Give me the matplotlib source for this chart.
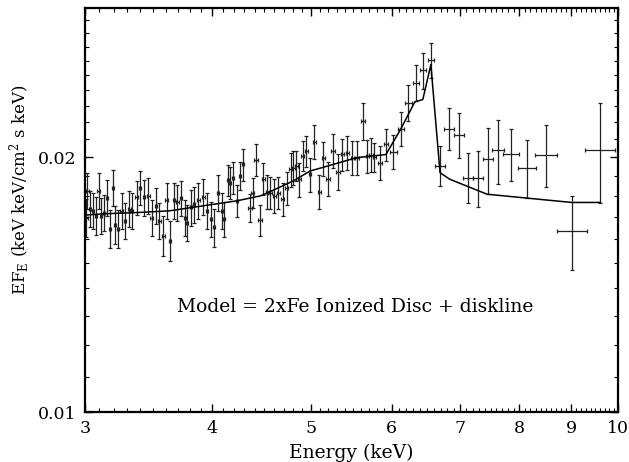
import matplotlib
matplotlib.use("Agg")
import matplotlib.pyplot as plt
from matplotlib.ticker import FixedLocator, NullFormatter, FixedFormatter

plt.rcParams['font.family'] = ['DejaVu Serif']
plt.rcParams['mathtext.fontset'] = 'dejavuserif'

# ---- data: dense low-energy bins ----
E_lo = [3.010, 3.017, 3.034, 3.055, 3.076, 3.096, 3.111, 3.132, 3.153, 3.174,
        3.196, 3.211, 3.232, 3.260, 3.284, 3.316, 3.334, 3.372, 3.397, 3.428,
        3.461, 3.488, 3.522, 3.549, 3.581, 3.608, 3.635, 3.668, 3.696, 3.727,
        3.761, 3.780, 3.810, 3.838, 3.876, 3.920, 3.955, 3.986, 4.016, 4.049,
        4.086, 4.107, 4.142, 4.163, 4.195, 4.227, 4.259, 4.285, 4.356, 4.383,
        4.415, 4.455, 4.489, 4.530, 4.557, 4.599, 4.644, 4.690, 4.733, 4.776,
        4.804, 4.833, 4.869, 4.907, 4.944, 4.988, 5.037, 5.091, 5.141, 5.192,
        5.251, 5.311, 5.366, 5.427, 5.489, 5.544, 5.619, 5.678, 5.726, 5.769,
        5.843, 5.923, 6.022, 6.123, 6.229, 6.334, 6.435, 6.553]
F_lo = [0.01696, 0.01825, 0.01738, 0.01728, 0.01705, 0.01825, 0.01705, 0.01719, 0.01790, 0.01646,
        0.01840, 0.01664, 0.01646, 0.01728, 0.01682, 0.01738, 0.01728, 0.01792, 0.01841, 0.01792,
        0.01800, 0.01697, 0.01752, 0.01682, 0.01615, 0.01779, 0.01593, 0.01779, 0.01768, 0.01789,
        0.01697, 0.01674, 0.01744, 0.01760, 0.01779, 0.01795, 0.01728, 0.01690, 0.01652, 0.01816,
        0.01728, 0.01690, 0.01878, 0.01866, 0.01892, 0.01776, 0.01900, 0.01961, 0.01741, 0.01816,
        0.01984, 0.01685, 0.01886, 0.01821, 0.01816, 0.01800, 0.01816, 0.01784, 0.01838, 0.01935,
        0.01943, 0.01952, 0.01883, 0.02006, 0.02033, 0.01909, 0.02085, 0.01821, 0.01994, 0.01886,
        0.02033, 0.01923, 0.02015, 0.02024, 0.01997, 0.01997, 0.02206, 0.02006, 0.02012, 0.02000,
        0.01970, 0.02071, 0.02030, 0.02160, 0.02318, 0.02447, 0.02532, 0.02602]
Ferr_lo = [0.00087, 0.00089, 0.00085, 0.00084, 0.00088, 0.00089, 0.00083, 0.00084, 0.00087, 0.00085,
           0.00090, 0.00086, 0.00085, 0.00084, 0.00082, 0.00085, 0.00084, 0.00083, 0.00085, 0.00087,
           0.00088, 0.00083, 0.00085, 0.00082, 0.00088, 0.00087, 0.00086, 0.00087, 0.00086, 0.00087,
           0.00083, 0.00082, 0.00085, 0.00086, 0.00087, 0.00088, 0.00084, 0.00082, 0.00085, 0.00089,
           0.00084, 0.00082, 0.00081, 0.00081, 0.00082, 0.00077, 0.00072, 0.00085, 0.00066, 0.00074,
           0.00086, 0.00073, 0.00082, 0.00084, 0.00079, 0.00083, 0.00079, 0.00082, 0.00080, 0.00089,
           0.00089, 0.00079, 0.00087, 0.00082, 0.00088, 0.00088, 0.00096, 0.00084, 0.00092, 0.00087,
           0.00094, 0.00094, 0.00087, 0.00093, 0.00092, 0.00092, 0.00108, 0.00092, 0.00093, 0.00081,
           0.00091, 0.00090, 0.00093, 0.00099, 0.00113, 0.00119, 0.00123, 0.00123]
Eerr_lo = [0.010] * 48 + [0.016] * 20 + [0.022] * 14 + [0.045] * 6

# ---- data: wide high-energy bins ----
E_hi = [6.692, 6.834, 6.986, 7.134, 7.297, 7.454, 7.624, 7.851, 8.140, 8.497, 9.011, 9.606]
Eerr_hi = [0.076, 0.077, 0.079, 0.081, 0.082, 0.080, 0.100, 0.138, 0.166, 0.207, 0.305, 0.320]
F_hi = [0.01954, 0.02160, 0.02124, 0.01892, 0.01892, 0.01988, 0.02037, 0.02015, 0.01943, 0.02014, 0.01634, 0.02039]
Ferr_hi = [0.00106, 0.00123, 0.00129, 0.00128, 0.00144, 0.00178, 0.00177, 0.00142, 0.00153, 0.00169, 0.00164, 0.00276]

# ---- model curve ----
E_model = [3.00, 3.12, 3.37, 3.63, 3.92, 4.23, 4.46, 4.56, 4.80, 4.99, 5.19, 5.54, 5.92,
           6.12, 6.32, 6.435, 6.553, 6.69, 6.84, 7.44, 8.14, 9.01, 9.61]
F_model = [0.01708, 0.01714, 0.01720, 0.01728, 0.01752, 0.01776, 0.01800, 0.01821, 0.01874,
           0.01926, 0.01952, 0.01997, 0.02014, 0.02157, 0.02324, 0.02339, 0.02572, 0.01917,
           0.01883, 0.01808, 0.01789, 0.01768, 0.01768]

x_major = [3, 4, 5, 6, 7, 8, 9, 10]
x_labels = ['3', '4', '5', '6', '7', '8', '9', '10']
y_major = [0.01, 0.02]
y_labels = ['0.01', '0.02']

fig = plt.figure(figsize=(6.29, 4.62), dpi=100)
ax = fig.add_axes([0.1351, 0.1082, 0.8474, 0.8745])

ax.errorbar(E_lo, F_lo, yerr=Ferr_lo, xerr=Eerr_lo, fmt='none', ecolor='#222222',
            elinewidth=0.9, capsize=1.4, capthick=0.9)
ax.errorbar(E_hi, F_hi, yerr=Ferr_hi, xerr=Eerr_hi, fmt='none', ecolor='#222222',
            elinewidth=0.9, capsize=1.4, capthick=0.9)
ax.plot(E_model, F_model, color='black', lw=1.1)

ax.set_xscale('log')
ax.set_yscale('log')
ax.set_xlim(3, 10)
ax.set_ylim(0.01, 0.03)

ax.xaxis.set_major_locator(FixedLocator(x_major))
ax.xaxis.set_major_formatter(FixedFormatter(x_labels))
x_minor = [round(3 + 0.1 * i, 1) for i in range(71)]
ax.xaxis.set_minor_locator(FixedLocator(x_minor))
ax.xaxis.set_minor_formatter(NullFormatter())

ax.yaxis.set_major_locator(FixedLocator(y_major))
ax.yaxis.set_major_formatter(FixedFormatter(y_labels))
y_minor = [round(0.010 + 0.001 * i, 3) for i in range(21)]
ax.yaxis.set_minor_locator(FixedLocator(y_minor))
ax.yaxis.set_minor_formatter(NullFormatter())

ax.tick_params(which='both', direction='in', top=True, right=True, labelsize=12.5)
ax.tick_params(which='major', length=5.5, width=1.0, pad=6)
ax.tick_params(which='minor', length=2.6, width=0.8)
for s in ax.spines.values():
    s.set_linewidth(1.6)

fig.text(351.5 / 629, 1 - 453 / 462, 'Energy (keV)', fontsize=13.5,
         ha='center', va='center')
fig.text(20 / 629, 1 - 190 / 462, r'EF$_{\rm E}$ (keV keV/cm$^{2}$ s keV)', fontsize=12,
         rotation=90, ha='center', va='center')

ax.text(0.507, 0.259, 'Model = 2xFe Ionized Disc + diskline', transform=ax.transAxes,
        ha='center', va='center', fontsize=13.5)

fig.savefig('out.png', dpi=100)
